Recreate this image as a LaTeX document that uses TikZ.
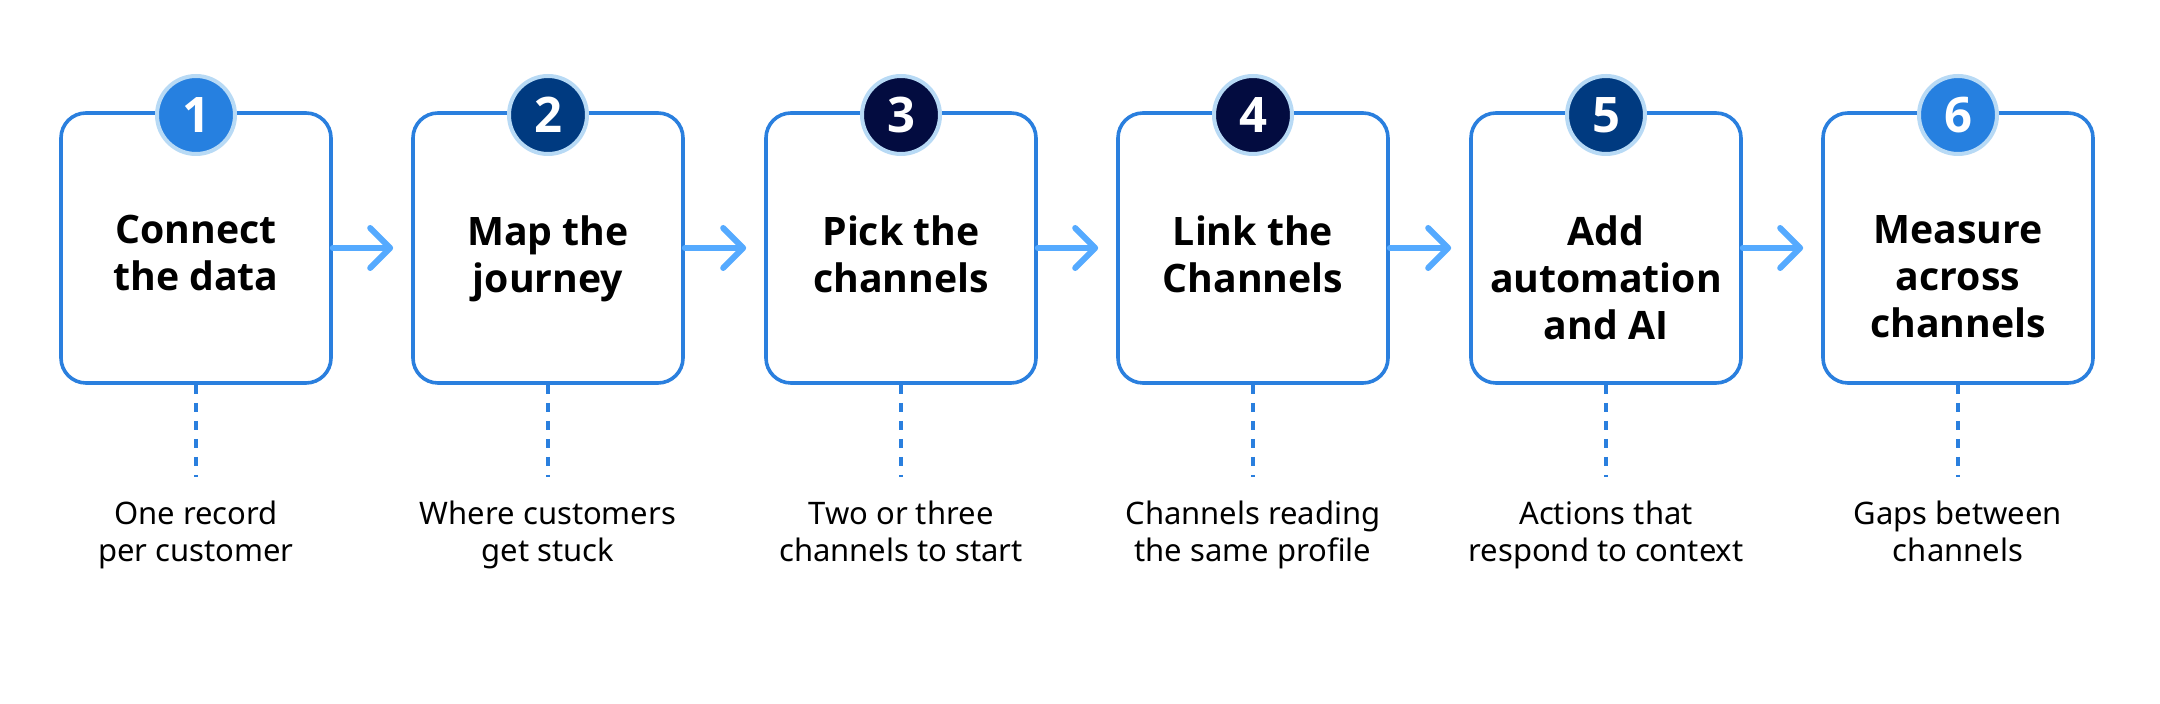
\documentclass[tikz,border=0pt]{standalone}
\usepackage{fontspec}
\setmainfont{Noto Sans}
\newfontfamily\headfont{Open Sans}
\usetikzlibrary{arrows.meta}
\definecolor{boxblue}{HTML}{2A7FDE}
\definecolor{arrowblue}{HTML}{55AAFF}
\definecolor{stepbright}{HTML}{2680E0}
\definecolor{stepnavy}{HTML}{003A80}
\definecolor{stepdark}{HTML}{030C40}
\definecolor{ringblue}{HTML}{B8DAF5}

\tikzset{
  stepbox/.style={draw=boxblue, line width=1.8pt, rounded corners=12.5pt, fill=white,
    minimum width=135pt, minimum height=135pt, inner sep=0pt},
  badge/.style={circle, draw=ringblue, line width=2pt, fill=#1, minimum size=39pt,
    inner sep=0pt, text=white, font=\headfont\bfseries\fontsize{24.5}{24.5}\selectfont},
  title/.style={anchor=north, align=center, inner sep=0pt,
    font=\headfont\bfseries\fontsize{19.6}{23.5}\selectfont},
  note/.style={anchor=north, align=center, inner sep=0pt,
    font=\fontsize{15.5}{18.5}\selectfont},
  flow/.style={draw=arrowblue, line width=3pt, line cap=round, shorten >=9pt,
    -{Straight Barb[length=10pt,width=20pt,round]}},
  dots/.style={draw=boxblue, line width=2pt, dash pattern=on 4.5pt off 4.5pt}
}

\begin{document}
\begin{tikzpicture}[x=0.5pt,y=-0.5pt]
\useasboundingbox (0,0) rectangle (2160,704);

% boxes
\node[stepbox] (b1) at (196,248) {};
\node[stepbox] (b2) at (548,248) {};
\node[stepbox] (b3) at (901,248) {};
\node[stepbox] (b4) at (1253,248) {};
\node[stepbox] (b5) at (1606,248) {};
\node[stepbox] (b6) at (1958,248) {};

% numbers
\node[badge=stepbright] (n1) at (196,115) {1};
\node[badge=stepnavy] (n2) at (548,115) {2};
\node[badge=stepdark] (n3) at (901,115) {3};
\node[badge=stepdark] (n4) at (1253,115) {4};
\node[badge=stepnavy] (n5) at (1606,115) {5};
\node[badge=stepbright] (n6) at (1958,115) {6};

% titles
\node[title] (t1) at (196,215) {Connect\\the data};
\node[title] (t2) at (548,215) {Map the\\journey};
\node[title] (t3) at (901,215) {Pick the\\channels};
\node[title] (t4) at (1253,215) {Link the\\Channels};
\node[title] (t5) at (1606,215) {Add\\automation\\and AI};
\node[title] (t6) at (1958,215) {Measure\\across\\channels};

% arrows
\draw[flow] (b1.east) -- (b2.west);
\draw[flow] (b2.east) -- (b3.west);
\draw[flow] (b3.east) -- (b4.west);
\draw[flow] (b4.east) -- (b5.west);
\draw[flow] (b5.east) -- (b6.west);

% notes
\node[note] (d1) at (196,501) {One record\\per customer};
\node[note] (d2) at (548,501) {Where customers\\get stuck};
\node[note] (d3) at (901,501) {Two or three\\channels to start};
\node[note] (d4) at (1253,501) {Channels reading\\the same profile};
\node[note] (d5) at (1606,501) {Actions that\\respond to context};
\node[note] (d6) at (1958,501) {Gaps between\\channels};

\coordinate (e1) at (196,477);
\coordinate (e2) at (548,477);
\coordinate (e3) at (901,477);
\coordinate (e4) at (1253,477);
\coordinate (e5) at (1606,477);
\coordinate (e6) at (1958,477);
\draw[dots] (b1.south) -- (e1);
\draw[dots] (b2.south) -- (e2);
\draw[dots] (b3.south) -- (e3);
\draw[dots] (b4.south) -- (e4);
\draw[dots] (b5.south) -- (e5);
\draw[dots] (b6.south) -- (e6);
\end{tikzpicture}
\end{document}
